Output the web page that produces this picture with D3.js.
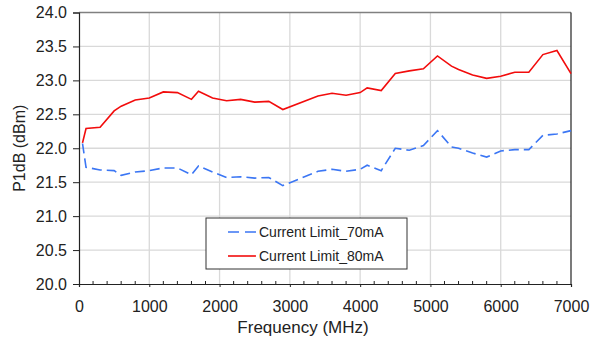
<!DOCTYPE html>
<html>
<head>
<meta charset="utf-8">
<script src="https://cdn.jsdelivr.net/npm/d3@7"></script>
<style>
  body { margin: 0; background: #fff; }
  text { font-family: "Liberation Sans", Arial, sans-serif; fill: #222; }
</style>
</head>
<body>
<svg id="chart" width="597" height="343"></svg>
<script>
// Series
const freq70 = [50, 100, 300, 500, 600, 800, 1000, 1200, 1400, 1600, 1700, 1900, 2100, 2300, 2500, 2700, 2900,
  3400, 3600, 3800, 4000, 4100, 4300, 4500, 4700, 4900, 5100, 5300, 5400, 5600, 5800, 6000, 6200, 6400, 6600, 6800, 7000];
const p1db70 = [22.07, 21.72, 21.68, 21.67, 21.60, 21.65, 21.67, 21.71, 21.71, 21.61, 21.74, 21.65, 21.57, 21.58, 21.56, 21.57, 21.45,
  21.66, 21.69, 21.66, 21.69, 21.75, 21.67, 22.00, 21.97, 22.04, 22.26, 22.02, 22.00, 21.93, 21.87, 21.96, 21.98, 21.98, 22.19, 22.21, 22.26];

const freq80 = [50, 100, 300, 500, 600, 800, 1000, 1200, 1400, 1600, 1700, 1900, 2100, 2300, 2500, 2700, 2900,
  3400, 3600, 3800, 4000, 4100, 4300, 4500, 4700, 4900, 5100, 5300, 5400, 5600, 5800, 6000, 6200, 6400, 6600, 6800, 7000];
const p1db80 = [22.08, 22.29, 22.31, 22.55, 22.62, 22.71, 22.74, 22.83, 22.82, 22.72, 22.84, 22.74, 22.70, 22.72, 22.68, 22.69, 22.57,
  22.77, 22.81, 22.78, 22.82, 22.89, 22.85, 23.10, 23.14, 23.17, 23.36, 23.21, 23.16, 23.08, 23.03, 23.06, 23.12, 23.12, 23.38, 23.44, 23.10];

const xTicks = [0, 1000, 2000, 3000, 4000, 5000, 6000, 7000];
const yTicks = [20.0, 20.5, 21.0, 21.5, 22.0, 22.5, 23.0, 23.5, 24.0];
const seriesNames = ['Current Limit_70mA', 'Current Limit_80mA'];

const margin = {top: 12.5, right: 26, bottom: 59, left: 79};
const width = 597, height = 343;

const svg = d3.select('#chart');
const xScale = d3.scaleLinear().domain([0, 7000]).range([margin.left, width - margin.right]);
const yScale = d3.scaleLinear().domain([20, 24]).range([height - margin.bottom, margin.top]);

// gridlines
const grid = svg.append('g').attr('stroke', '#d9d9d9').attr('stroke-width', 1.3);
grid.selectAll('.gx').data(xTicks.slice(1, -1)).join('line')
  .attr('x1', d => xScale(d)).attr('x2', d => xScale(d))
  .attr('y1', yScale(20)).attr('y2', yScale(24));
grid.selectAll('.gy').data(yTicks.slice(1, -1)).join('line')
  .attr('x1', xScale(0)).attr('x2', xScale(7000))
  .attr('y1', d => yScale(d)).attr('y2', d => yScale(d));

// top border grey, right border dark
svg.append('line')
  .attr('x1', xScale(0)).attr('x2', xScale(7000))
  .attr('y1', yScale(24)).attr('y2', yScale(24))
  .attr('stroke', '#808080').attr('stroke-width', 1.5);
svg.append('line')
  .attr('x1', xScale(7000)).attr('x2', xScale(7000))
  .attr('y1', yScale(24)).attr('y2', yScale(20))
  .attr('stroke', '#222').attr('stroke-width', 1.2);

// minor x ticks (inward)
svg.append('g')
  .selectAll('line').data(d3.range(0, 7001, 200).filter(d => d % 1000 !== 0)).join('line')
  .attr('x1', d => xScale(d)).attr('x2', d => xScale(d))
  .attr('y1', yScale(20)).attr('y2', yScale(20) - 3)
  .attr('stroke', '#222');

// x axis
const xAxis = svg.append('g')
  .attr('transform', `translate(0,${yScale(20)})`)
  .call(d3.axisBottom(xScale).tickValues(xTicks).tickSize(3).tickPadding(14).tickFormat(d3.format('d')));
xAxis.select('.domain').attr('stroke', '#222').attr('stroke-width', 1.2);
xAxis.selectAll('.tick line').attr('stroke', '#222');
xAxis.selectAll('text').attr('font-size', '16px').attr('fill', '#222')
  .style('font-family', '"Liberation Sans", Arial, sans-serif');

// y axis
const yAxis = svg.append('g')
  .attr('transform', `translate(${xScale(0)},0)`)
  .call(d3.axisLeft(yScale).tickValues(yTicks).tickSize(6).tickPadding(6).tickFormat(d3.format('.1f')));
yAxis.select('.domain').attr('stroke', '#222').attr('stroke-width', 1.2);
yAxis.selectAll('.tick line').attr('stroke', '#222');
yAxis.selectAll('text').attr('font-size', '16px').attr('fill', '#222')
  .style('font-family', '"Liberation Sans", Arial, sans-serif');

// axis titles
svg.append('text')
  .attr('x', 303).attr('y', height - 10)
  .attr('text-anchor', 'middle').attr('font-size', '17px')
  .text('Frequency (MHz)');
svg.append('text')
  .attr('transform', `translate(25,${(yScale(20) + yScale(24)) / 2}) rotate(-90)`)
  .attr('text-anchor', 'middle').attr('font-size', '16px')
  .text('P1dB (dBm)');

// series
const line = d3.line().x(d => xScale(d[0])).y(d => yScale(d[1]));
const data70 = freq70.map((f, i) => [f, p1db70[i]]);
const data80 = freq80.map((f, i) => [f, p1db80[i]]);

svg.append('path').datum(data70)
  .attr('fill', 'none').attr('stroke', '#3b76f4').attr('stroke-width', 1.6)
  .attr('stroke-dasharray', '10,5')
  .attr('d', line);
svg.append('path').datum(data80)
  .attr('fill', 'none').attr('stroke', '#f20c0c').attr('stroke-width', 1.6)
  .attr('d', line);

// legend
const legend = svg.append('g').attr('transform', 'translate(206,218)');
legend.append('rect')
  .attr('width', 201).attr('height', 51)
  .attr('fill', '#fff').attr('stroke', '#333').attr('stroke-width', 1);
const legendStyles = [
  {color: '#3b76f4', dash: '11,6'},
  {color: '#f20c0c', dash: null},
];
seriesNames.forEach((name, i) => {
  const y = 14 + i * 24;
  legend.append('line')
    .attr('x1', 22).attr('x2', 50).attr('y1', y).attr('y2', y)
    .attr('stroke', legendStyles[i].color).attr('stroke-width', 1.6)
    .attr('stroke-dasharray', legendStyles[i].dash);
  legend.append('text')
    .attr('x', 53).attr('y', y + 5)
    .attr('font-size', '14px')
    .text(name);
});
</script>
</body>
</html>
